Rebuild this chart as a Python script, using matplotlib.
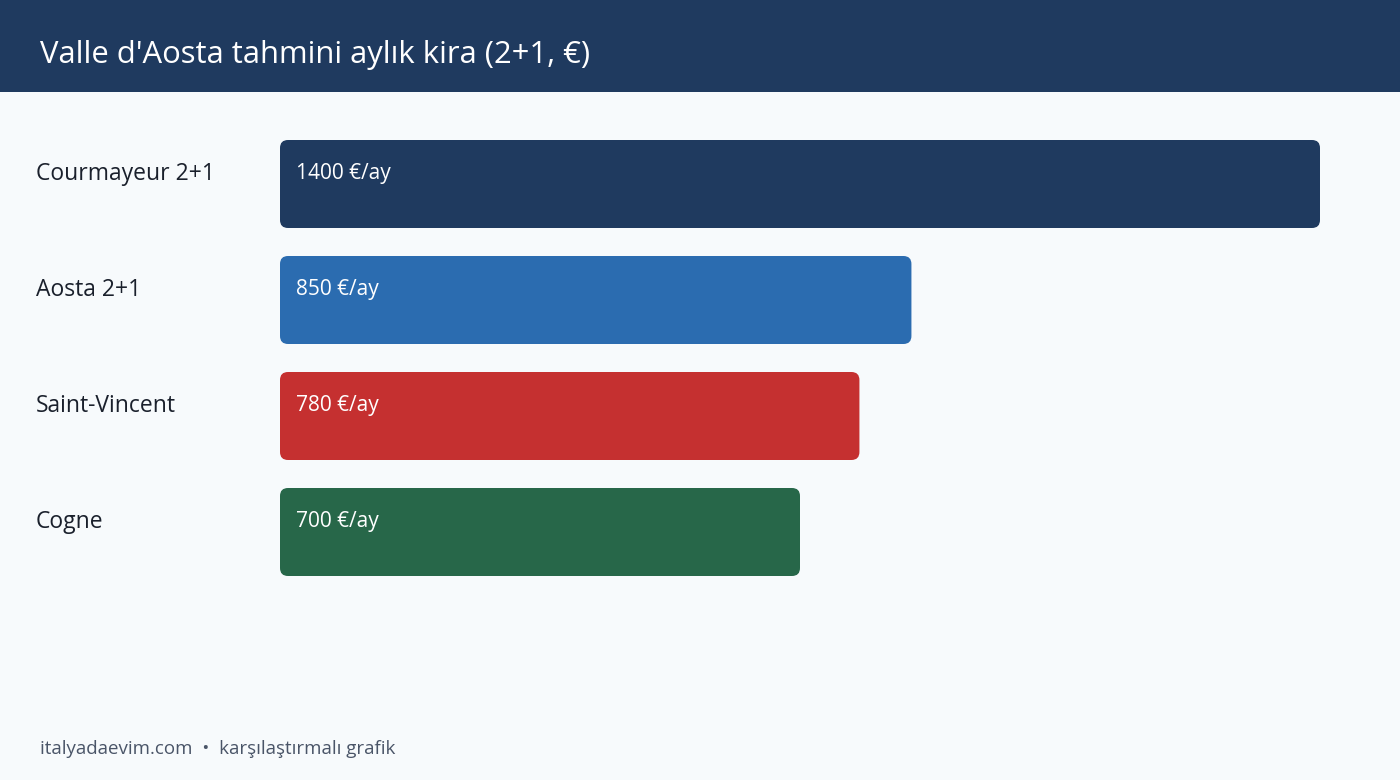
import matplotlib
matplotlib.use("Agg")
import matplotlib.pyplot as plt
from matplotlib.patches import FancyBboxPatch, Rectangle

plt.rcParams['font.family'] = ['Open Sans', 'DejaVu Sans']

title = "Valle d'Aosta tahmini aylık kira (2+1, €)"
cities = ["Courmayeur 2+1", "Aosta 2+1", "Saint-Vincent", "Cogne"]
rents = [1400, 850, 780, 700]
colors = ["#1f3a5f", "#2b6cb0", "#c53030", "#276749"]
footer = "italyadaevim.com  •  karşılaştırmalı grafik"

W, H = 1400, 780
bg = "#f7fafc"

fig = plt.figure(figsize=(W / 100, H / 100), dpi=100, facecolor=bg)

# header band
fig.patches.append(Rectangle((0, 1 - 92 / H), 1, 92 / H, transform=fig.transFigure,
                             facecolor="#1f3a5f", edgecolor="none", zorder=0))
fig.text(40 / W, 1 - 55 / H, title, color="white", fontsize=22.3, va="center", ha="left")

# bar area: x from 280px, 1400 -> 1040px ; slots 116px tall starting at 126px
ax = fig.add_axes([280 / W, (H - 590) / H, 1040 / W, 464 / H])
ax.set_facecolor("none")
ax.set_xlim(0, 1400)
ax.set_ylim(3.5, -0.5)
ax.axis("off")

bh = 88 / 116
bars = ax.barh(range(len(cities)), rents, height=bh, color=colors)
px_x = 1400 / 1040   # data units per pixel
px_y = 1 / 116
for b, c in zip(bars, colors):
    x0, y0 = b.get_x(), b.get_y()
    w, h = b.get_width(), b.get_height()
    b.remove()
    r = 8 * px_x
    p = FancyBboxPatch((x0, y0), w, h,
                       boxstyle="round,pad=0,rounding_size=%f" % r,
                       mutation_aspect=px_y / px_x,
                       facecolor=c, edgecolor="none")
    ax.add_patch(p)

for i, (name, v) in enumerate(zip(cities, rents)):
    ty = i - bh / 2 + 34 * px_y
    ax.text(-244 * px_x, ty, name, fontsize=16.5, color="#1a202c", va="center", ha="left")
    ax.text(16 * px_x, ty - 1 * px_y, "%d €/ay" % v, fontsize=15, color="white",
            va="center", ha="left")

fig.text(40 / W, 1 - 749 / H, footer, color="#4a5568", fontsize=13.5, va="center", ha="left")

fig.savefig("out.png", dpi=100, facecolor=bg)
